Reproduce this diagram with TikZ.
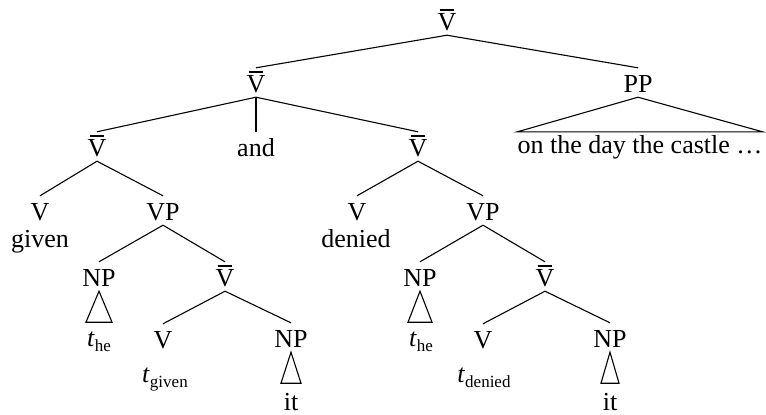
\documentclass[tikz,border=0pt]{standalone}
\usepackage{fontspec}
\setmainfont{Liberation Serif}
\newcommand\Vb{\makebox[0pt][l]{\hspace{0.08em}\raisebox{0.74em}{\rule{0.56em}{0.075em}}}V}
\newcommand\tsub[1]{\textit{t}\raisebox{-0.22em}{\fontsize{17}{17}\selectfont #1}}
\begin{document}
\begin{tikzpicture}[x=1pt,y=-1pt,
  cat/.style={inner xsep=1pt, inner ysep=0pt, text height=24pt, text depth=5pt, anchor=base, font=\fontsize{26}{30}\selectfont},
  word/.style={inner sep=0pt, anchor=base, font=\fontsize{26}{30}\selectfont},
  edge/.style={line width=1.1pt}]
\useasboundingbox (0,0) rectangle (766,415);
% level 1-2
\node[cat] (v0) at (447,30) {\Vb};
\node[cat] (v1) at (256,92) {\Vb};
\node[cat] (pp) at (638,92) {PP};
\node[word, text height=21pt] (ppt) at (640,153) {on the day the castle …};
% level 3
\node[cat] (v2) at (97,156) {\Vb};
\node[cat] (and) at (256,156) {and};
\node[cat] (v3) at (418,156) {\Vb};
% left conjunct
\node[cat] (lv) at (40,220) {V};
\node[word] (lgiven) at (40,247) {given};
\node[cat] (lvp) at (163,220) {VP};
\node[cat] (lnp1) at (99,286) {NP};
\node[word] (lthe) at (99,346) {\tsub{he}};
\node[cat] (lvb) at (225,286) {\Vb};
\node[cat] (lv2) at (163,348) {V};
\node[word] (ltg) at (165,382) {\tsub{given}};
\node[cat] (lnp2) at (291,347) {NP};
\node[word] (lit) at (291,410) {it};
% right conjunct
\node[cat] (rv) at (357,220) {V};
\node[word] (rdenied) at (356,247) {denied};
\node[cat] (rvp) at (483,220) {VP};
\node[cat] (rnp1) at (420,286) {NP};
\node[word] (rthe) at (421,346) {\tsub{he}};
\node[cat] (rvb) at (545,286) {\Vb};
\node[cat] (rv2) at (483,348) {V};
\node[word] (rtd) at (484,382) {\tsub{denied}};
\node[cat] (rnp2) at (610,347) {NP};
\node[word] (rit) at (610,410) {it};
% edges
\draw[edge] (v0.south) -- (v1.north);
\draw[edge] (v0.south) -- (pp.north);
\draw[edge] (pp.south) -- (ppt.north west) -- (ppt.north east) -- cycle;
\draw[edge] (v1.south) -- (v2.north);
\draw[edge] (v1.south) -- (and.north);
\draw[edge] (v1.south) -- (v3.north);
\draw[edge] (v2.south) -- (lv.north);
\draw[edge] (v2.south) -- (lvp.north);
\draw[edge] (lvp.south) -- (lnp1.north);
\draw[edge] (lvp.south) -- (lvb.north);
\draw[edge] (lnp1.south) -- ++(-13,31) -- ++(26,0) -- cycle;
\draw[edge] (lvb.south) -- (lv2.north);
\draw[edge] (lvb.south) -- (lnp2.north);
\draw[edge] (lnp2.south) -- ++(-10,31) -- ++(20,0) -- cycle;
\draw[edge] (v3.south) -- (rv.north);
\draw[edge] (v3.south) -- (rvp.north);
\draw[edge] (rvp.south) -- (rnp1.north);
\draw[edge] (rvp.south) -- (rvb.north);
\draw[edge] (rnp1.south) -- ++(-12,31) -- ++(24,0) -- cycle;
\draw[edge] (rvb.south) -- (rv2.north);
\draw[edge] (rvb.south) -- (rnp2.north);
\draw[edge] (rnp2.south) -- ++(-9,31) -- ++(18,0) -- cycle;
\end{tikzpicture}
\end{document}
